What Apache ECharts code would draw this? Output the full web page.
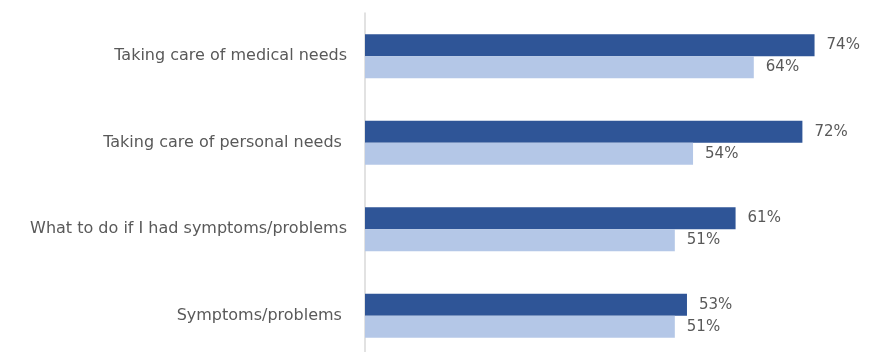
<!DOCTYPE html>
<html>
<head>
<meta charset="utf-8">
<style>
  html, body { margin: 0; padding: 0; background: #fff; overflow: hidden; }
  #chart { width: 875px; height: 362px; }
</style>
<script src="https://cdn.jsdelivr.net/npm/echarts@6/dist/echarts.min.js"></script>
</head>
<body>
<div id="chart"></div>
<script>
const categories = [
  'Taking care of medical needs',
  'Taking care of personal needs ',
  'What to do if I had symptoms/problems',
  'Symptoms/problems '
]
const darkValues = [74, 72, 61, 53]
const lightValues = [64, 54, 51, 51]

const textColor = '#595959'
const fontFamily = '"DejaVu Sans", sans-serif'

const labelStyle = {
  show: true,
  position: 'right',
  distance: 12,
  formatter: '{c}%',
  color: textColor,
  fontSize: 15,
  fontFamily: fontFamily
}

const chart = echarts.init(document.getElementById('chart'))
chart.setOption({
  animation: false,
  grid: { left: 365, top: 13, width: 486, height: 346 },
  xAxis: {
    type: 'value',
    min: 0,
    max: 80,
    show: false
  },
  yAxis: {
    type: 'category',
    data: categories,
    inverse: true,
    axisLine: { lineStyle: { color: '#d9d9d9', width: 1.5 } },
    axisTick: { show: false },
    axisLabel: {
      color: textColor,
      fontSize: 16,
      fontFamily: fontFamily,
      margin: 18
    }
  },
  series: [
    {
      type: 'bar',
      data: darkValues,
      barWidth: 22,
      barGap: '0%',
      itemStyle: { color: '#2F5597' },
      label: labelStyle
    },
    {
      type: 'bar',
      data: lightValues,
      barWidth: 22,
      itemStyle: { color: '#B4C7E7' },
      label: labelStyle
    }
  ]
})
</script>
</body>
</html>
